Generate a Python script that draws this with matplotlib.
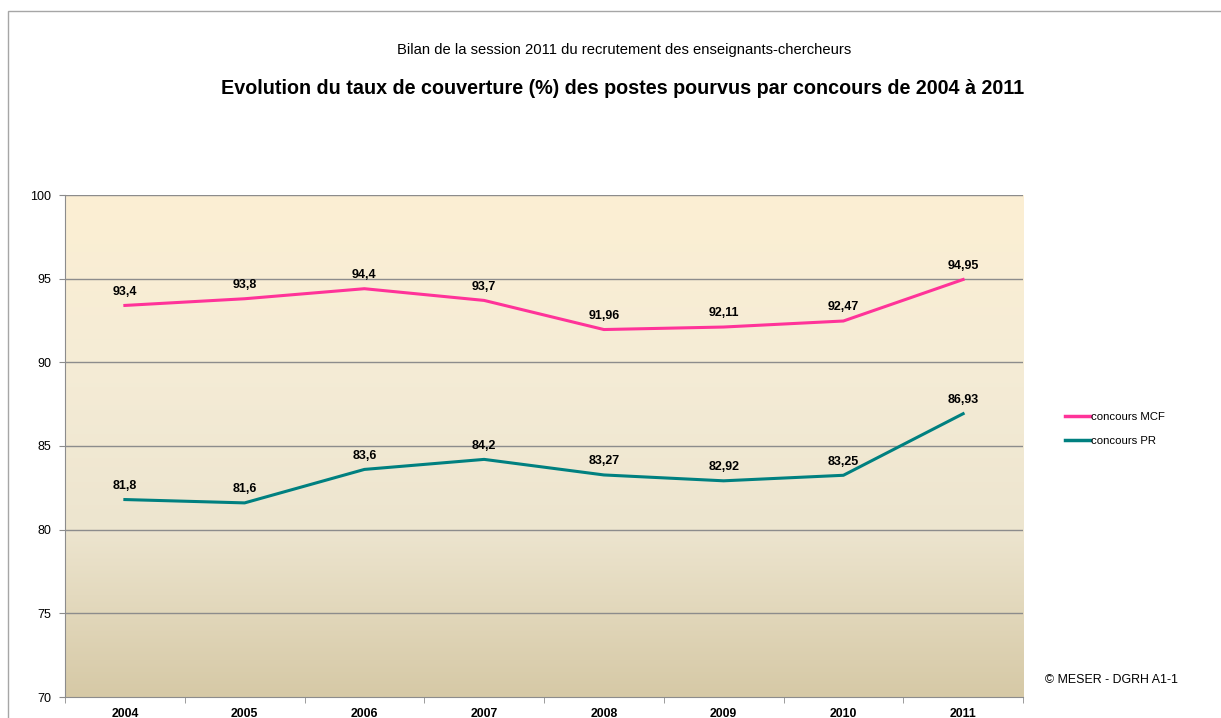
import numpy as np
import matplotlib.pyplot as plt
from matplotlib.colors import LinearSegmentedColormap
from matplotlib.lines import Line2D
from matplotlib.patches import Rectangle

plt.rcParams['font.family'] = ['Liberation Sans', 'DejaVu Sans']

years = ['2004', '2005', '2006', '2007', '2008', '2009', '2010', '2011']
mcf = [93.4, 93.8, 94.4, 93.7, 91.96, 92.11, 92.47, 94.95]
pr = [81.8, 81.6, 83.6, 84.2, 83.27, 82.92, 83.25, 86.93]
mcf_lbl = ['93,4', '93,8', '94,4', '93,7', '91,96', '92,11', '92,47', '94,95']
pr_lbl = ['81,8', '81,6', '83,6', '84,2', '83,27', '82,92', '83,25', '86,93']

W, H = 1221, 718
fig = plt.figure(figsize=(W / 100, H / 100), dpi=100)

# outer frame of the chart object
fig.patches.append(Rectangle((8 / W, -0.1), 1.2, 1.1 - 11 / H, transform=fig.transFigure,
                             fill=False, edgecolor='#a6a6a6', linewidth=1))

ax = fig.add_axes([65 / W, 1 - 697 / H, (1023 - 65) / W, (697 - 195) / H])
x = np.arange(len(years))
ax.set_xlim(-0.5, 7.5)
ax.set_ylim(70, 100)

# gradient background
cmap = LinearSegmentedColormap.from_list('bg', ['#d6c9a6', '#ede5cf', '#f5ecd6', '#fcefd3'])
grad = np.linspace(0, 1, 256).reshape(-1, 1)
ax.imshow(grad, aspect='auto', cmap=cmap, origin='lower',
          extent=(-0.5, 7.5, 70, 100), zorder=0)

for y in range(75, 101, 5):
    ax.axhline(y, color='#8c8c8c', linewidth=1, zorder=1)

ax.plot(x, mcf, color='#ff3399', linewidth=2.2, zorder=3)
ax.plot(x, pr, color='#008080', linewidth=2.2, zorder=3)

for i in range(len(years)):
    ax.annotate(mcf_lbl[i], (x[i], mcf[i]), xytext=(0, 5.5), textcoords='offset points',
                ha='center', va='bottom', fontsize=9, fontweight='bold')
    ax.annotate(pr_lbl[i], (x[i], pr[i]), xytext=(0, 5.5), textcoords='offset points',
                ha='center', va='bottom', fontsize=9, fontweight='bold')

ax.set_yticks(range(70, 101, 5))
ax.set_yticklabels([str(v) for v in range(70, 101, 5)], fontsize=9)
ax.set_xticks(x)
ax.set_xticklabels(years, fontsize=8.8, fontweight='bold')
ax.set_xticks(np.arange(-0.5, 8, 1), minor=True)
ax.tick_params(axis='x', which='major', length=0, pad=8)
ax.tick_params(axis='x', which='minor', length=4, color='#8c8c8c')
ax.tick_params(axis='y', length=4, color='#8c8c8c', pad=6)
for s in ['top', 'right']:
    ax.spines[s].set_visible(False)
for s in ['left', 'bottom']:
    ax.spines[s].set_color('#8c8c8c')

fig.text(624 / W, 1 - 50 / H, 'Bilan de la session 2011 du recrutement des enseignants-chercheurs',
         ha='center', va='center', fontsize=10.6)
fig.text(623 / W, 1 - 89 / H, 'Evolution du taux de couverture (%) des postes pourvus par concours de 2004 à 2011',
         ha='center', va='center', fontsize=14.2, fontweight='bold')

handles = [Line2D([], [], color='#ff3399', linewidth=2.5),
           Line2D([], [], color='#008080', linewidth=2.5)]
fig.legend(handles, ['concours MCF', 'concours PR'], loc='center left',
           bbox_to_anchor=(1055 / W, 1 - 429 / H), frameon=False, fontsize=8.2,
           handlelength=2.2, handletextpad=0.1, labelspacing=1.2)

fig.text(1045 / W, 1 - 680 / H, '© MESER - DGRH A1-1', ha='left', va='center', fontsize=8.9)

fig.savefig('out.png', dpi=100)
